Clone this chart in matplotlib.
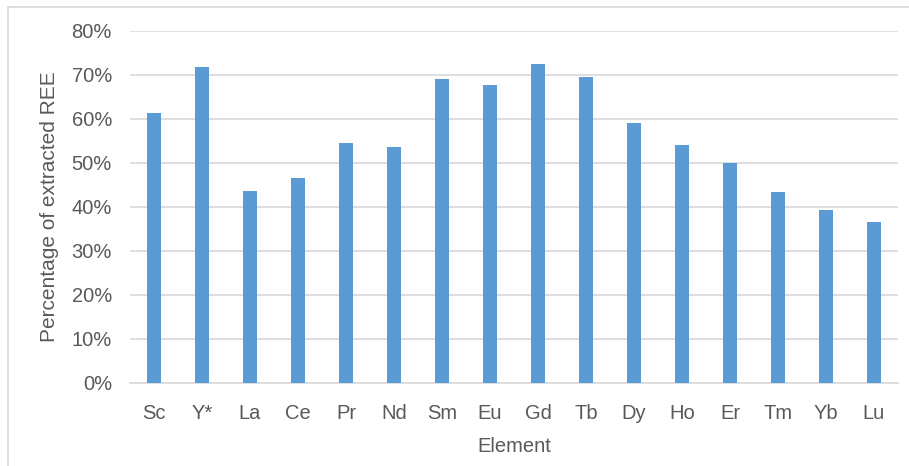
import matplotlib.pyplot as plt
from matplotlib.patches import Rectangle
from matplotlib.ticker import PercentFormatter

# element names and extracted fraction (%)
elements = ['Sc', 'Y*', 'La', 'Ce', 'Pr', 'Nd', 'Sm', 'Eu', 'Gd', 'Tb',
            'Dy', 'Ho', 'Er', 'Tm', 'Yb', 'Lu']
extracted = [61.3, 71.8, 43.6, 46.5, 54.5, 53.6, 69.0, 67.7, 72.4, 69.5,
             59.0, 54.0, 49.9, 43.3, 39.4, 36.5]

plt.rcParams['font.family'] = ['Liberation Sans', 'DejaVu Sans']
grey = '#595959'

fig = plt.figure(figsize=(9.09, 4.66), dpi=100)
ax = fig.add_axes([130/909, 1 - 383/466, (898 - 130)/909, (383 - 31)/466])

ax.bar(range(len(elements)), extracted, width=0.31, color='#5b9bd5', zorder=3)

ax.set_xlim(-0.5, len(elements) - 0.5)
ax.set_ylim(0, 80)
ax.set_yticks(range(0, 81, 10))
ax.yaxis.set_major_formatter(PercentFormatter(decimals=0))
ax.set_xticks(range(len(elements)))
ax.set_xticklabels(elements)
ax.grid(axis='y', color='#d9d9d9', linewidth=1.2, zorder=0)
ax.tick_params(length=0, labelsize=14.5, colors=grey)
ax.tick_params(axis='x', pad=15)
ax.tick_params(axis='y', pad=13)
for s in ['top', 'right', 'left']:
    ax.spines[s].set_visible(False)
ax.spines['bottom'].set_color('#d9d9d9')
ax.spines['bottom'].set_linewidth(1.2)

ax.set_xlabel('Element', fontsize=14.5, color=grey, labelpad=10)
ax.set_ylabel('Percentage of extracted REE', fontsize=15, color=grey, labelpad=9)

# outer chart border
fig.patches.append(Rectangle((8/909, -0.05), 1.05, 1 - 7/466 + 0.05,
                             transform=fig.transFigure, fill=False,
                             edgecolor='#d9d9d9', linewidth=1.2))

fig.savefig('out.png', dpi=100)
